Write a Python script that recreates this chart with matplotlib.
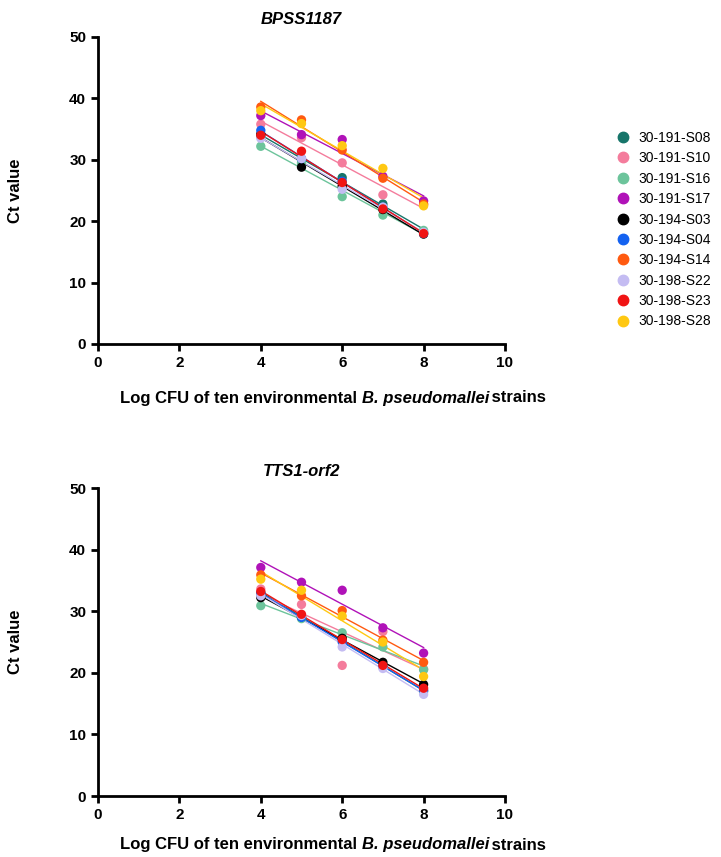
import numpy as np
import matplotlib
matplotlib.use("Agg")
import matplotlib.pyplot as plt
from matplotlib.lines import Line2D

plt.rcParams['font.family'] = ['Liberation Sans', 'DejaVu Sans']

strains = ["30-191-S08", "30-191-S10", "30-191-S16", "30-191-S17", "30-194-S03",
           "30-194-S04", "30-194-S14", "30-198-S22", "30-198-S23", "30-198-S28"]
colors = ["#17756a", "#f47c9c", "#6cc49b", "#b012b8", "#000000",
          "#1462f0", "#ff5a10", "#c4bcf2", "#f01414", "#ffc812"]
log_cfu = [4, 5, 6, 7, 8]

ct_bpss1187 = {
    "30-191-S08": [33.8, 30.0, 27.1, 22.8, 18.2],
    "30-191-S10": [35.8, 33.6, 29.5, 24.3, 22.7],
    "30-191-S16": [32.2, 29.5, 24.0, 21.0, 18.5],
    "30-191-S17": [37.2, 34.1, 33.3, 27.3, 23.3],
    "30-194-S03": [34.2, 28.8, 25.7, 21.9, 17.9],
    "30-194-S04": [34.8, 30.2, 26.5, 22.3, 18.0],
    "30-194-S14": [38.6, 36.5, 31.6, 27.0, 22.8],
    "30-198-S22": [33.5, 30.2, 25.2, 22.3, 18.2],
    "30-198-S23": [34.0, 31.4, 26.3, 22.0, 18.0],
    "30-198-S28": [38.0, 35.9, 32.3, 28.6, 22.5],
}
ct_tts1 = {
    "30-191-S08": [33.0, 29.0, 25.5, 21.0, 17.0],
    "30-191-S10": [33.6, 31.1, 21.2, 26.7, 20.6],
    "30-191-S16": [30.9, 28.8, 26.5, 24.2, 20.5],
    "30-191-S17": [37.1, 34.7, 33.4, 27.3, 23.2],
    "30-194-S03": [32.2, 29.1, 25.6, 21.7, 18.1],
    "30-194-S04": [32.9, 29.0, 25.0, 21.0, 17.2],
    "30-194-S14": [35.9, 32.5, 30.1, 25.3, 21.7],
    "30-198-S22": [32.5, 29.3, 24.2, 20.7, 16.5],
    "30-198-S23": [33.2, 29.5, 25.4, 21.2, 17.5],
    "30-198-S28": [35.2, 33.4, 29.2, 25.0, 19.4],
}
titles = ["BPSS1187", "TTS1-orf2"]
xticks = [0, 2, 4, 6, 8, 10]
yticks = [0, 10, 20, 30, 40, 50]
xlabel_parts = [("Log CFU of ten environmental ", "normal"),
                ("B. pseudomallei", "italic"),
                (" strains", "normal")]

fig = plt.figure(figsize=(7.21, 8.57), dpi=100)
W, H = 721, 857
def ax_rect(l, r, t, b):
    return [l / W, 1 - b / H, (r - l) / W, (b - t) / H]

axes = [fig.add_axes(ax_rect(98, 505, 37, 344)),
        fig.add_axes(ax_rect(98, 505, 488, 796))]
xlabel_y = [398, 845]

renderer = fig.canvas.get_renderer()

for ax, data, title, ly in zip(axes, [ct_bpss1187, ct_tts1], titles, xlabel_y):
    x = np.array(log_cfu, dtype=float)
    for s, c in zip(strains, colors):
        y = np.array(data[s])
        k, b0 = np.polyfit(x, y, 1)
        xx = np.array([x.min(), x.max()])
        ax.plot(xx, k * xx + b0, color=c, lw=1.0, zorder=2)
    for s, c in zip(strains, colors):
        ax.scatter(x, data[s], s=45, color=c, edgecolors='none', zorder=3)
    ax.set_xlim(0, 10)
    ax.set_ylim(0, 50)
    ax.set_xticks(xticks)
    ax.set_yticks(yticks)
    for sp in ["top", "right"]:
        ax.spines[sp].set_visible(False)
    for sp in ["left", "bottom"]:
        ax.spines[sp].set_linewidth(2.0)
    ax.tick_params(direction='out', width=2.0, length=5, labelsize=11)
    for lab in ax.get_xticklabels() + ax.get_yticklabels():
        lab.set_fontweight('bold')
    ax.set_ylabel("Ct value", fontsize=12, fontweight='bold', labelpad=33)
    ax.set_title(title, fontsize=12, fontweight='bold', style='italic', pad=9)
    ax.patch.set_alpha(0)

    # composite x label with italic species name
    texts = []
    widths = []
    for txt, st in xlabel_parts:
        t = fig.text(0, 1 - ly / H, txt, fontsize=12, fontweight='bold', style=st,
                     va='center', ha='left')
        texts.append(t)
        w = t.get_window_extent(renderer).width
        if st == "italic":
            w -= 2
        widths.append(w)
    total = sum(widths)
    cx = 333
    x0 = cx - total / 2
    for t, w in zip(texts, widths):
        t.set_x(x0 / W)
        x0 += w

handles = [Line2D([], [], marker='o', ls='none', color=c, markersize=7.5) for c in colors]
fig.legend(handles, strains, loc='upper left', bbox_to_anchor=(608 / W, 1 - 124 / H),
           frameon=False, fontsize=10, labelspacing=0.46, handletextpad=0.5,
           handlelength=1.2, borderpad=0)

fig.savefig("out.png", dpi=100)
